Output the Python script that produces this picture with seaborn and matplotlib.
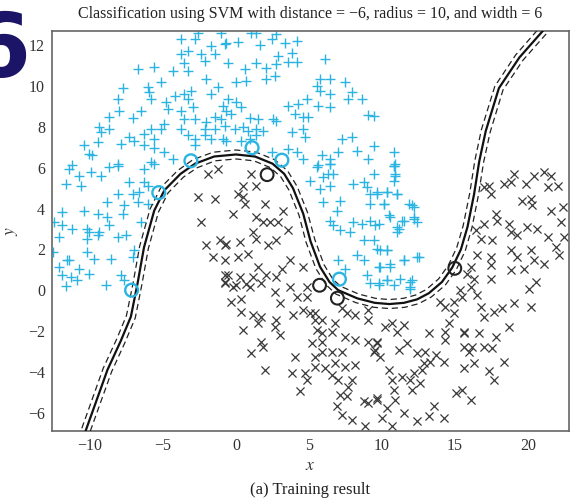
import numpy as np
import pandas as pd
import matplotlib
matplotlib.use("Agg")
import matplotlib.pyplot as plt
import seaborn as sns

# upper moon (class +1)
cyan_x = [-3.76, -2.84, -2.61, -1.01, -1.70, -0.78, -3.76, -3.30, -2.38, -1.46, -2.15, -3.53,
          -6.74, -5.59, -4.33, -3.30, -2.04, -1.24, -5.13, -6.05, -5.93, -5.82, -7.77, -8.11,
          -7.99, -8.68, -7.08, -6.51, -4.79, -4.21, -3.53, -3.07, -3.30, -1.70, -0.89, -4.67,
          -3.76, -2.96, -3.53, -2.84, -2.04, -1.46, -1.01, -2.15, -1.46, -0.78, -4.90, -5.13,
          -5.82, -6.28, -5.59, -7.31, -6.97, -7.88, -8.68, -9.37, -9.26, -9.48, -10.40, -10.06,
          -9.83, -6.28, -5.59, -4.90, -3.76, -3.30, -2.84, -2.84, -2.15, -1.70, -0.89, -11.20,
          -8.11, -5.82, -4.33,
          1.05, 1.40, 2.77, -0.66, 0.14, 1.63, 2.43, 3.34, 4.15, 3.80, 2.89, -0.55,
          0.60, 1.40, 2.08, 2.77, 3.57, 4.15, 6.09, 0.02, 0.71, 2.08, 2.66, 5.75,
          6.44, 7.47, 5.52, 5.75, 6.44, 7.93, 7.70, 8.61, -0.55, 0.02, 0.37, -0.66,
          -0.32, 4.83, 3.57, 4.26, 5.64, 6.44, 4.03, 4.60, 4.95, 9.07, 9.42, 0.94,
          1.51, 2.54, 2.77, -0.09, 0.48, 0.82, 1.40, 1.86, 3.80, 4.60, 4.72, 7.24,
          7.93, -0.66, 0.37, 0.94, 1.40, 2.43, 3.57, 4.15, 4.60, 5.86, 6.44, 7.01,
          8.27, 9.07, 9.42, 10.79, 10.91, 5.64, 6.44,
          -11.43, -10.74, -11.66, -10.63, -9.95, -9.26, -8.68, -8.11, -6.28, -5.59, -7.31, -6.28,
          -6.05, -8.11, -7.08, -6.62, -8.80, -7.65, -6.74, -6.05, -11.89, -10.40, -9.48, -8.80,
          -7.77, -12.46, -11.89, -11.20, -10.17, -10.06, -9.37, -8.68, -8.11, -7.54, -6.51, -12.12,
          -10.17, -9.48, -12.50, -11.55, -10.17, -9.71, -8.57, -6.97, -7.08, -12.12, -11.43, -10.74,
          -10.06, -11.89, -11.32, -10.86, -11.66, -8.91, -7.88, -7.65,
          5.52, 6.44, 6.32, 6.67, 5.06, 5.98, 6.44, 5.75, 7.13, 5.98, 6.90, 8.04,
          8.73, 9.42, 8.96, 9.19, 9.64, 10.33, 10.79, 10.91, 11.02, 11.82, 12.16, 9.19,
          10.10, 6.44, 6.67, 7.13, 8.04, 8.61, 9.19, 9.53, 10.56, 11.02, 11.48, 12.16,
          7.81, 8.73, 9.42, 9.87, 10.33, 8.27, 7.01, 7.47, 8.73, 9.87, 10.56, 11.48,
          12.39, 8.96, 9.19, 9.76, 10.33, 11.25, 12.05, 11.94,
          10.79, 10.91, 10.79, 9.64, 10.33, 11.02, 10.10, 12.05, 12.16, 12.39, 11.36, 9.76,
          10.45, 11.13, 11.02, 9.64, 10.33, 11.48, 12.51, 9.76, 10.56, 10.33, 9.76, 11.94,
          11.94, 10.79]
cyan_y = [12.33, 12.29, 12.59, 12.60, 11.97, 12.05, 11.56, 11.72, 11.56, 11.56, 11.23, 11.15,
          10.83, 10.96, 10.75, 10.75, 10.34, 9.94, 10.18, 9.94, 9.69, 9.37, 9.89, 9.37,
          8.80, 8.47, 8.42, 8.80, 9.20, 9.53, 9.61, 9.77, 9.37, 9.61, 9.04, 8.88,
          8.80, 8.96, 8.39, 8.39, 8.23, 8.47, 8.39, 7.90, 7.90, 8.06, 8.15, 7.90,
          7.90, 7.66, 7.41, 7.50, 7.33, 7.17, 7.90, 8.02, 7.77, 7.25, 7.09, 6.68,
          6.63, 7.09, 6.96, 6.77, 7.90, 7.58, 7.41, 7.09, 7.58, 7.41, 7.41, 6.11,
          6.20, 6.28, 6.42,
          12.62, 12.59, 12.54, 12.13, 12.16, 12.00, 12.29, 12.13, 12.21, 11.64, 11.48, 11.15,
          10.83, 11.15, 10.91, 11.07, 11.19, 11.19, 11.35, 10.18, 10.26, 10.34, 10.50, 10.37,
          10.37, 10.18, 10.02, 9.77, 9.61, 9.69, 9.37, 9.37, 9.37, 9.20, 8.96, 8.80,
          8.63, 9.37, 9.04, 9.12, 9.04, 8.96, 8.63, 8.47, 8.47, 8.59, 8.52, 8.42,
          8.39, 8.39, 8.31, 7.90, 8.02, 7.82, 7.90, 7.82, 7.74, 7.90, 7.50, 7.41,
          7.50, 7.33, 7.33, 7.41, 7.58, 6.77, 6.93, 6.77, 6.42, 6.63, 6.42, 6.77,
          6.84, 6.42, 7.06, 6.77, 6.20, 6.11, 6.20,
          5.93, 5.61, 5.20, 5.12, 5.77, 5.61, 6.02, 6.10, 5.93, 6.18, 5.28, 5.28,
          5.12, 4.72, 4.72, 4.80, 4.31, 4.15, 4.31, 4.23, 3.82, 3.90, 3.74, 3.58,
          3.74, 3.33, 3.17, 3.01, 3.01, 2.85, 2.85, 3.17, 2.60, 2.68, 3.33, 2.60,
          2.52, 2.68, 1.87, 1.46, 1.87, 1.54, 1.54, 1.95, 1.63, 1.14, 1.46, 1.06,
          0.81, 0.73, 0.65, 0.49, 0.20, 0.24, 0.73, 0.49,
          6.02, 6.18, 5.69, 5.69, 5.37, 5.53, 5.12, 4.96, 4.39, 4.31, 3.90, 5.20,
          5.28, 5.69, 5.04, 4.72, 4.80, 4.80, 6.10, 5.69, 4.72, 4.23, 4.07, 4.23,
          4.23, 3.41, 3.17, 2.93, 3.33, 3.25, 3.41, 3.17, 3.58, 3.09, 3.41, 3.50,
          2.85, 2.44, 2.44, 1.95, 1.95, 1.71, 1.46, 1.06, 1.46, 1.14, 1.30, 1.46,
          1.63, 0.73, 0.33, 0.33, 0.49, 0.57, 0.49, 0.16,
          6.10, 5.61, 5.37, 4.72, 4.80, 4.72, 4.23, 4.15, 3.58, 3.33, 3.41, 3.25,
          3.66, 3.01, 2.85, 2.03, 1.95, 1.46, 1.63, 1.14, 1.14, 0.49, 0.24, 0.41,
          0.08, 0.24]

# lower moon (class -1)
black_x = [-1.92, -1.24, -2.61, -1.46, -2.38, -1.12, -2.04, -0.78, -1.58, -0.78, -0.78,
           1.05, 1.40, 0.48, 0.14, 0.48, 0.60, 1.97, 3.23, -0.21, 1.40, 1.86, 2.32,
           2.89, 3.57, 1.17, 1.40, 2.77, 2.20, 0.25, -0.66, -0.78, 0.14, 0.82, 1.51,
           2.08, 3.12, 3.69, 4.60, -0.55, 0.25, 1.17, 2.77, 3.69, 4.83, -0.21, 0.94,
           -0.78, 0.02, 0.71, 1.74, 2.66, -0.32, 0.37, 0.37, 1.17, 1.74, 1.51, 2.77,
           2.66, 3.00, 0.48, 3.00, 4.15, 4.83, 3.92, 4.60, 5.06, 5.41, 5.86, 5.52,
           5.86, 6.55, 6.78, 7.58, 8.16, 9.07, 9.07, 7.24, 1.74, 1.86, 1.05, 1.97,
           4.03, 5.18, 5.41, 5.86, 6.55, 7.24, 7.47, 8.16, 9.07, 9.53, 3.80, 4.72,
           4.83, 5.41, 6.09, 6.78, 6.55, 7.47, 7.01, 7.93, 7.70, 8.16, 4.38, 7.13,
           7.58, 6.90, 7.24, 7.93, 8.73, 9.07, 8.84, 9.64, 5.41, 5.86, 9.42,
           19.04, 18.81, 18.35, 19.84, 20.41, 21.10, 21.56, 21.33, 22.02, 17.32, 16.98, 17.43,
           19.61, 20.18, 20.30, 17.78, 17.89, 16.98, 16.40, 16.75, 17.55, 18.69, 18.81, 19.27,
           19.95, 20.64, 21.33, 21.90, 22.47, 22.25, 21.56, 22.36, 18.81, 19.27, 20.18, 20.41,
           21.10, 22.13, 16.52, 17.43, 17.43, 16.06, 17.43, 18.81, 19.73, 20.53, 20.07, 19.04,
           20.18, 18.69, 15.83, 16.29, 16.06, 16.52, 15.37, 15.49, 14.91, 14.00, 14.34, 14.91,
           14.57, 16.75, 16.98, 17.66, 18.23, 15.60, 14.34, 13.20, 11.71, 11.13, 10.22, 10.67,
           11.48, 11.02, 9.64, 9.87, 12.39, 12.97, 13.66, 14.23, 13.31, 12.74, 12.85, 12.16,
           11.36, 11.94, 12.05, 12.62, 10.45, 10.67, 10.79, 10.91, 10.33, 9.99, 10.67, 11.48,
           12.39, 13.20, 13.54, 14.23, 15.03, 15.49, 16.06, 15.60, 15.95, 16.29, 16.17, 16.98,
           17.55, 15.60, 17.32, 17.66, 18.35, 17.78, 14.34, 15.60, 16.63, 9.64, 9.64]
black_y = [5.69, 5.93, 4.55, 4.47, 3.33, 2.44, 2.20, 2.20, 1.63, 0.73, 0.41,
           5.69, 5.12, 5.12, 4.72, 4.55, 4.23, 4.23, 3.90, 3.74, 3.58, 3.33, 3.33,
           3.33, 2.93, 2.85, 2.52, 2.44, 2.20, 2.36, 2.28, 1.46, 1.63, 1.79, 1.14,
           0.73, 1.06, 1.46, 1.14, 0.73, 0.65, 0.65, 0.65, 0.16, 0.16, 0.16, 0.16,
           0.33, 0.24, 0.29, 0.36, -0.08, -0.57, -0.41, -1.06, -1.22, -1.30, -1.63, -1.46,
           -1.79, -2.20, -1.95, -0.65, -0.33, -0.33, -1.22, -0.98, -1.14, -1.46, -1.46, -1.95,
           -2.11, -2.03, -1.63, -1.14, -1.22, -1.46, -0.98, -0.89, -2.52, -2.76, -3.09, -3.90,
           -3.25, -2.60, -3.25, -3.01, -3.01, -3.01, -2.28, -2.44, -2.52, -2.93, -4.07, -4.07,
           -4.39, -3.74, -3.82, -3.58, -4.15, -3.74, -4.39, -4.39, -4.72, -3.66, -4.96, -5.12,
           -5.20, -5.69, -6.10, -6.34, -5.45, -5.53, -6.67, -5.28, -1.14, -2.52, -3.01,
           5.69, 5.28, 5.20, 5.20, 5.61, 5.77, 5.61, 5.04, 5.12, 5.12, 5.04, 4.72,
           4.39, 4.47, 4.15, 3.74, 3.41, 3.25, 2.93, 2.52, 2.44, 3.25, 2.85, 2.68,
           3.09, 3.01, 2.60, 2.11, 2.60, 3.33, 3.90, 4.07, 1.95, 1.63, 1.95, 1.46,
           1.30, 1.71, 1.71, 1.63, 1.22, 1.14, 0.57, 0.98, 1.06, 0.41, 0.08, -0.65,
           -0.81, -1.79, 0.81, 0.57, 0.16, -0.24, 0.00, -0.33, -0.57, -0.57, -0.81, -1.14,
           -1.63, -0.81, -1.30, -1.06, -0.89, -2.11, -2.44, -2.11, -2.60, -2.93, -1.79, -1.63,
           -1.71, -2.03, -2.52, -3.25, -3.09, -3.01, -3.17, -3.50, -3.50, -3.90, -3.58, -4.07,
           -4.23, -4.39, -4.88, -4.55, -3.90, -4.39, -4.88, -5.37, -5.77, -6.26, -6.67, -6.02,
           -6.42, -6.18, -5.69, -6.26, -5.04, -4.88, -5.37, -2.76, -3.01, -3.58, -2.76, -2.76,
           -2.85, -3.82, -3.98, -4.39, -3.50, -2.28, -2.03, -2.03, -2.11, -5.37, -2.60]

# support vectors
sv_cyan_x = [-7.15, -5.29, -3.09, 1.10, 3.14, 7.08]
sv_cyan_y = [0.00, 4.78, 6.34, 6.98, 6.37, 0.54]
sv_black_x = [2.13, 5.72, 6.94, 14.98]
sv_black_y = [5.66, 0.24, -0.39, 1.07]

# decision boundary and margins
boundary_x = [-10.50, -10.30, -9.60, -8.80, -7.90, -7.20, -6.75, -6.30, -5.60, -4.90, -3.80, -2.80,
              -1.50, 0.00, 1.30, 2.50, 3.30, 3.90, 4.60, 5.10, 5.75, 6.40, 7.00, 8.30,
              9.50, 10.50, 11.50, 12.40, 13.20, 14.10, 14.80, 15.40, 15.85, 16.30, 16.65, 17.10,
              18.00, 19.40, 21.00, 21.40]
boundary_y = [-7.30, -6.90, -5.50, -3.90, -2.50, -1.30, 0.30, 2.10, 3.90, 4.90, 5.70, 6.20,
              6.55, 6.65, 6.55, 6.20, 5.70, 5.00, 3.75, 2.40, 1.15, 0.40, 0.00, -0.40,
              -0.62, -0.68, -0.62, -0.45, -0.15, 0.40, 1.10, 2.00, 3.10, 4.70, 6.30, 7.80,
              9.90, 11.40, 12.70, 13.10]
margin_up_x = [-10.79, -10.59, -9.89, -9.09, -8.18, -7.50, -7.05, -6.60, -5.89, -5.15, -4.00, -2.94,
               -1.57, 0.00, 1.38, 2.66, 3.54, 4.18, 4.89, 5.40, 6.03, 6.64, 7.16, 8.40,
               9.55, 10.50, 11.45, 12.29, 13.02, 13.87, 14.53, 15.11, 15.55, 16.00, 16.35, 16.80,
               17.72, 19.15, 20.77, 21.17]
margin_up_y = [-7.23, -6.83, -5.43, -3.82, -2.41, -1.24, 0.34, 2.15, 3.97, 5.03, 5.86, 6.40,
               6.76, 6.87, 6.76, 6.39, 5.84, 5.09, 3.82, 2.47, 1.24, 0.53, 0.19, -0.19,
               -0.40, -0.46, -0.40, -0.24, 0.03, 0.55, 1.21, 2.08, 3.15, 4.74, 6.34, 7.86,
               9.99, 11.53, 12.85, 13.25]
margin_dn_x = [-10.21, -10.01, -9.31, -8.51, -7.62, -6.90, -6.45, -6.00, -5.31, -4.65, -3.60, -2.66,
               -1.43, 0.00, 1.22, 2.34, 3.06, 3.62, 4.31, 4.80, 5.47, 6.16, 6.84, 8.20,
               9.45, 10.50, 11.55, 12.51, 13.38, 14.33, 15.07, 15.69, 16.15, 16.60, 16.95, 17.40,
               18.28, 19.65, 21.23, 21.63]
margin_dn_y = [-7.37, -6.97, -5.57, -3.98, -2.59, -1.36, 0.26, 2.05, 3.83, 4.77, 5.54, 6.00,
               6.34, 6.43, 6.34, 6.01, 5.56, 4.91, 3.68, 2.34, 1.06, 0.27, -0.19, -0.61,
               -0.84, -0.90, -0.84, -0.66, -0.33, 0.25, 0.99, 1.92, 3.05, 4.66, 6.26, 7.74,
               9.81, 11.27, 12.55, 12.95]

x_ticks = [-10, -5, 0, 5, 10, 15, 20]
y_ticks = [-6, -4, -2, 0, 2, 4, 6, 8, 10, 12]

CYAN = "#2bb4e2"
DARK = "#3a3a3a"

sns.set_style("white")
plt.rcParams["font.family"] = ["Liberation Serif", "DejaVu Serif"]
plt.rcParams["mathtext.fontset"] = "stix"

fig = plt.figure(figsize=(5.72, 5.01), dpi=100)
ax = fig.add_axes([52 / 572, 1 - 431 / 501, 517 / 572, 400 / 501])

pts_c = pd.DataFrame({"x": cyan_x, "y": cyan_y})
pts_b = pd.DataFrame({"x": black_x, "y": black_y})
sns.scatterplot(data=pts_c, x="x", y="y", marker="+", color=CYAN, s=60,
                linewidth=1.0, ax=ax, zorder=2)
sns.scatterplot(data=pts_b, x="x", y="y", marker="x", color=DARK, s=34,
                linewidth=0.9, ax=ax, zorder=2)

curves = pd.DataFrame({"x": boundary_x, "y": boundary_y})
up = pd.DataFrame({"x": margin_up_x, "y": margin_up_y})
dn = pd.DataFrame({"x": margin_dn_x, "y": margin_dn_y})
sns.lineplot(data=curves, x="x", y="y", sort=False, estimator=None, color="#111111",
             linewidth=1.6, ax=ax, zorder=3)
for m in (up, dn):
    sns.lineplot(data=m, x="x", y="y", sort=False, estimator=None, color="#222222",
                 linewidth=0.9, ax=ax, zorder=3)
    ax.lines[-1].set_dashes([5, 3])

sv_c = pd.DataFrame({"x": sv_cyan_x, "y": sv_cyan_y})
sv_b = pd.DataFrame({"x": sv_black_x, "y": sv_black_y})
sns.scatterplot(data=sv_c, x="x", y="y", marker="o", s=85, facecolor="none",
                edgecolor=CYAN, linewidth=1.7, ax=ax, zorder=4)
sns.scatterplot(data=sv_b, x="x", y="y", marker="o", s=85, facecolor="none",
                edgecolor="#222222", linewidth=1.5, ax=ax, zorder=4)

ax.set_xlim(-12.6, 22.8)
ax.set_ylim(-6.9, 12.7)
ax.set_xticks(x_ticks)
ax.set_yticks(y_ticks)
ax.tick_params(direction="in", length=7, width=1.0, color="#555555",
               labelsize=11.5, labelcolor="#333333", top=False, right=False, pad=5)
for sp in ax.spines.values():
    sp.set_color("#666666")
    sp.set_linewidth(1.2)
ax.set_xlabel("$x$", fontsize=12.5, color="#333333", labelpad=3)
ax.set_ylabel("$y$", fontsize=12.5, color="#333333", labelpad=6)

fig.text(310 / 572, 1 - 14 / 501,
         "Classification using SVM with distance = \u22126, radius = 10, and width = 6",
         ha="center", va="center", fontsize=11.5, color="#222222")
fig.text(310 / 572, 1 - 490 / 501, "(a) Training result", ha="center", va="center",
         fontsize=12, color="#222222")
# partly cropped figure number at the top-left corner of the scan
fig.text(30 / 572, 1 - 53 / 501, "6", ha="right", va="center", fontsize=64,
         fontweight="bold", color="#1c1466", family="DejaVu Sans", zorder=0)

fig.savefig("out.png", dpi=100)
